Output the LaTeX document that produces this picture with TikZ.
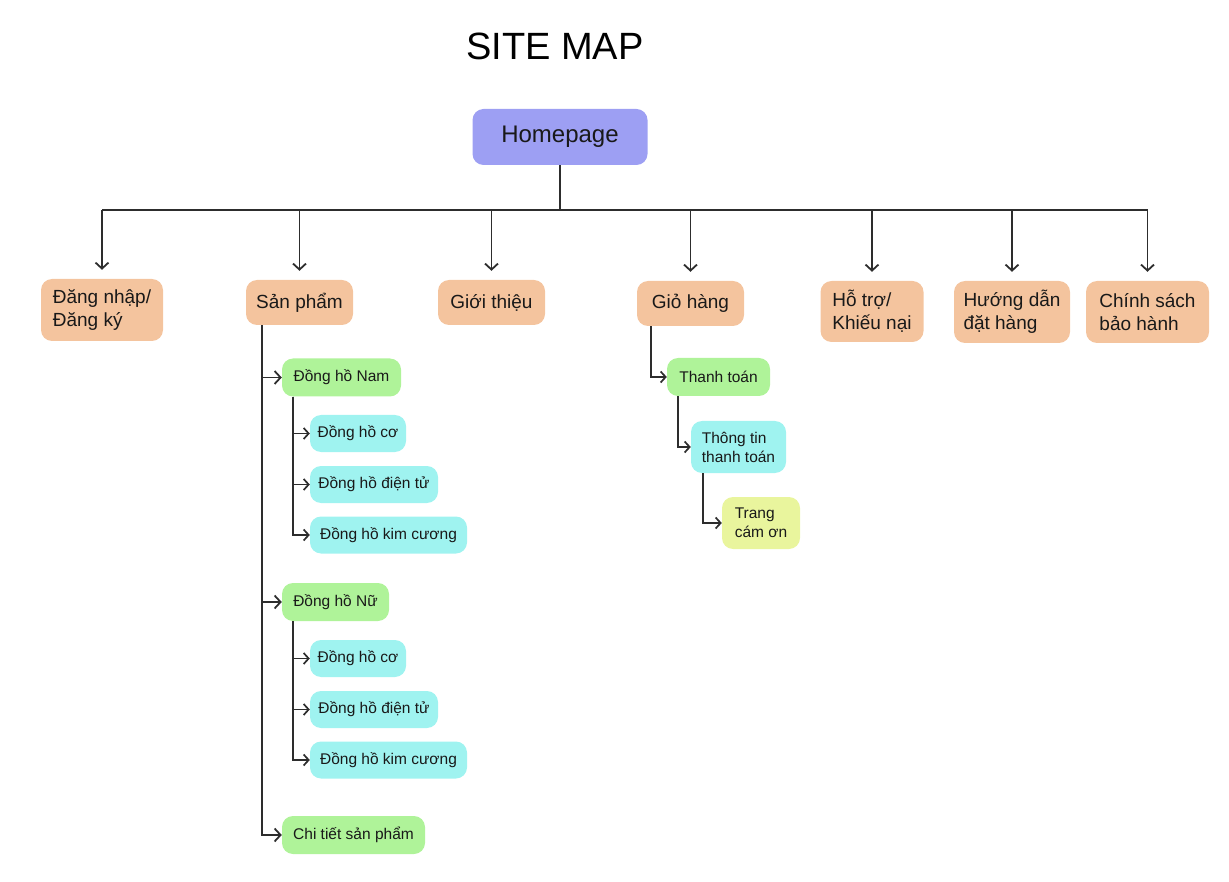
\documentclass[tikz,border=0pt]{standalone}
\usepackage{fontspec}
\setmainfont{Liberation Sans}
\usetikzlibrary{arrows.meta}
\definecolor{homec}{RGB}{157,159,243}
\definecolor{orangec}{RGB}{244,196,158}
\definecolor{greenc}{RGB}{175,243,153}
\definecolor{cyanc}{RGB}{159,243,240}
\definecolor{yellowc}{RGB}{233,245,157}
\definecolor{linec}{RGB}{45,45,45}
\tikzset{
  box/.style={rounded corners=11pt, inner sep=0pt, text=black!90, align=left},
  homebox/.style={box, fill=homec, font=\fontsize{24}{28}\selectfont, minimum width=175pt, minimum height=56pt},
  lone/.style={box, fill=orangec, font=\fontsize{19}{23}\selectfont},
  subg/.style={box, fill=greenc, font=\fontsize{15.5}{19}\selectfont, minimum height=38pt},
  subc/.style={box, fill=cyanc, font=\fontsize{15.5}{19}\selectfont, minimum height=37pt},
  suby/.style={box, fill=yellowc, font=\fontsize{15.5}{19}\selectfont},
  plain/.style={line width=1.8pt, draw=linec},
  conn/.style={plain, -{Straight Barb[length=6pt,width=13pt]}},
  sconn/.style={line width=1.7pt, draw=linec, -{Straight Barb[length=5pt,width=11pt]}},
}
\begin{document}
\begin{tikzpicture}[x=1pt,y=-1pt]
\useasboundingbox (0,0) rectangle (1229,882);
\node[font=\fontsize{38}{44}\selectfont] (title) at (555,46) {SITE MAP};
\node[homebox] (home) at (560,137) {Homepage};
% level 1
\node[lone, minimum width=122pt, minimum height=62pt] (dang) at (102,310) {Đăng nhập/\\Đăng ký};
\node[lone, minimum width=107pt, minimum height=45pt] (san) at (299.5,302.5) {Sản phẩm};
\node[lone, minimum width=107pt, minimum height=45pt] (gioi) at (491.5,302.5) {Giới thiệu};
\node[lone, minimum width=107pt, minimum height=45pt] (gio) at (690.5,303.5) {Giỏ hàng};
\node[lone, minimum width=103pt, minimum height=61pt] (hotro) at (872,311.5) {Hỗ trợ/\\Khiếu nại};
\node[lone, minimum width=116pt, minimum height=62pt] (huong) at (1012,312) {Hướng dẫn\\đặt hàng};
\node[lone, minimum width=123pt, minimum height=62pt] (chinh) at (1147.5,312) {Chính sách\\bảo hành};
% bus
\coordinate (bus) at (560,210);
\draw[plain] (home.south) -- (home.south |- bus);
\draw[plain] (dang.north |- bus) -- (chinh.north |- bus);
\foreach \n in {dang,san,gioi,gio,hotro,huong,chinh}{
  \draw[conn] (\n.north |- bus) -- ([yshift=9pt]\n.north);
}
% San pham branch
\node[subg, minimum width=119pt] (nam) at (341.5,377.5) {Đồng hồ Nam};
\node[subc, minimum width=96pt] (nam1) at (358,433.5) {Đồng hồ cơ};
\node[subc, minimum width=128pt] (nam2) at (374,484.5) {Đồng hồ điện tử};
\node[subc, minimum width=157pt] (nam3) at (388.5,535) {Đồng hồ kim cương};
\node[subg, minimum width=107pt] (nu) at (335.5,602) {Đồng hồ Nữ};
\node[subc, minimum width=96pt] (nu1) at (358,658.5) {Đồng hồ cơ};
\node[subc, minimum width=128pt] (nu2) at (374,709.5) {Đồng hồ điện tử};
\node[subc, minimum width=157pt] (nu3) at (388.5,760) {Đồng hồ kim cương};
\node[subg, minimum width=143pt] (chitiet) at (353.5,835) {Chi tiết sản phẩm};
\coordinate (sp) at ([xshift=-37.5pt]san.south);
\foreach \n in {nam,nu,chitiet}{
  \draw[conn] (sp) |- (\n.west);
}
\coordinate (namv) at ([xshift=11pt]nam.south west);
\foreach \n in {nam1,nam2,nam3}{
  \draw[sconn] (namv) |- (\n.west);
}
\coordinate (nuv) at ([xshift=11pt]nu.south west);
\foreach \n in {nu1,nu2,nu3}{
  \draw[sconn] (nuv) |- (\n.west);
}
% Gio hang branch
\node[subg, minimum width=103pt] (thanh) at (718.5,377) {Thanh toán};
\node[subc, minimum width=95pt, minimum height=52pt] (thongtin) at (738.5,447) {Thông tin\\thanh toán};
\node[suby, minimum width=78pt, minimum height=52pt] (trang) at (761,523) {Trang\\cám ơn};
\coordinate (giov) at ([xshift=14pt]gio.south west);
\draw[sconn] (giov) |- (thanh.west);
\coordinate (thanhv) at ([xshift=11pt]thanh.south west);
\draw[sconn] (thanhv) |- (thongtin.west);
\coordinate (thongv) at ([xshift=12pt]thongtin.south west);
\draw[sconn] (thongv) |- (trang.west);
\end{tikzpicture}
\end{document}
